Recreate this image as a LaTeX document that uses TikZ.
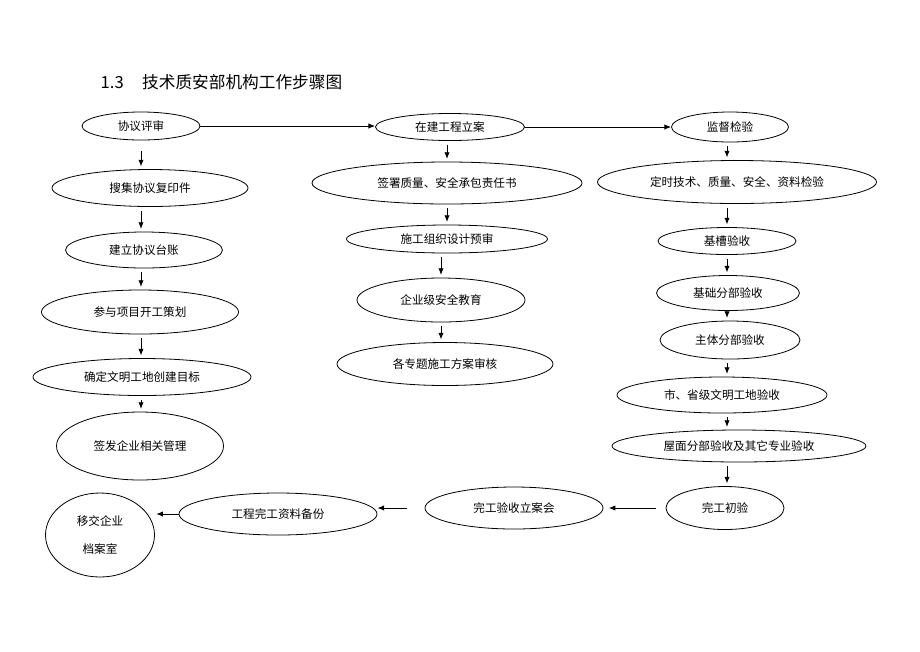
\documentclass[tikz,border=0pt]{standalone}
\usepackage{fontspec}
\newfontfamily\cjk{Noto Sans CJK SC}
\usetikzlibrary{shapes.geometric,arrows.meta}
\tikzset{
  oval/.style={ellipse, draw, line width=0.6pt, inner sep=0pt, font=\cjk\fontsize{8.7}{10}\selectfont},
  arr/.style={-{Latex[length=5pt,width=4pt]}, line width=0.7pt, shorten <=3pt, shorten >=2pt}
}
\begin{document}
\begin{tikzpicture}[x=0.75pt,y=-0.75pt]
\useasboundingbox (0,0) rectangle (920,651);
\node[anchor=west, font=\cjk\fontsize{12.5}{15}\selectfont] (title) at (96,82) {1.3\hspace{1.1em}技术质安部机构工作步骤图};
\node[oval, minimum width=88.5pt, minimum height=21pt] (l0) at (141,126) {协议评审};
\node[oval, minimum width=147pt, minimum height=27.75pt] (l1) at (150,188) {搜集协议复印件};
\node[oval, minimum width=117.75pt, minimum height=27pt] (l2) at (144,250) {建立协议台账};
\node[oval, minimum width=147.75pt, minimum height=33pt] (l3) at (140,312) {参与项目开工策划};
\node[oval, minimum width=163.5pt, minimum height=27.75pt] (l4) at (142,377) {确定文明工地创建目标};
\node[oval, minimum width=125.25pt, minimum height=51pt] (l5) at (140,446) {签发企业相关管理};
\node[oval, minimum width=111.75pt, minimum height=20.25pt] (m0) at (450,127) {在建工程立案};
\node[oval, minimum width=202.5pt, minimum height=31.5pt] (m1) at (447,183) {签署质量、安全承包责任书};
\node[oval, minimum width=150.75pt, minimum height=21pt] (m2) at (447,239) {施工组织设计预审};
\node[oval, minimum width=126pt, minimum height=33pt] (m3) at (441,300) {企业级安全教育};
\node[oval, minimum width=162pt, minimum height=32.25pt] (m4) at (445,364) {各专题施工方案审核};
\node[oval, minimum width=87.75pt, minimum height=22.5pt] (r0) at (730,127) {监督检验};
\node[oval, minimum width=209.25pt, minimum height=32.25pt] (r1) at (737,182) {定时技术、质量、安全、资料检验};
\node[oval, minimum width=103.5pt, minimum height=20.25pt] (r2) at (727,241) {基槽验收};
\node[oval, minimum width=107.25pt, minimum height=26.25pt] (r3) at (728,293) {基础分部验收};
\node[oval, minimum width=105pt, minimum height=28.5pt] (r4) at (730,340) {主体分部验收};
\node[oval, minimum width=157.5pt, minimum height=27pt] (r5) at (722,395) {市、省级文明工地验收};
\node[oval, minimum width=190.5pt, minimum height=24pt] (r6) at (739,446) {屋面分部验收及其它专业验收};
\node[oval, minimum width=88.5pt, minimum height=32.25pt] (b0) at (725,508) {完工初验};
\node[oval, minimum width=133.5pt, minimum height=31.5pt] (b1) at (514,508) {完工验收立案会};
\node[oval, minimum width=148.5pt, minimum height=31.5pt] (b2) at (278,514) {工程完工资料备份};
\node[oval, minimum width=81.75pt, minimum height=63pt, align=center, font=\cjk\fontsize{8.7}{21}\selectfont] (b3) at (100,535) {移交企业\\档案室};
\draw[arr, shorten <=0pt, shorten >=0pt](l0.east) -- (l0.east -| m0.west);
\draw[arr, shorten <=0pt, shorten >=0pt](m0.east) -- (m0.east -| r0.west);
\draw[arr, shorten <=8pt](l0.south) -- (l0.south |- l1.north);
\draw[arr](l0.south |- l1.south) -- (l0.south |- l2.north);
\draw[arr](l0.south |- l2.south) -- (l0.south |- l3.north);
\draw[arr](l0.south |- l3.south) -- (l0.south |- l4.north);
\draw[arr](l0.south |- l4.south) -- (l0.south |- l5.north);
\draw[arr](m2.north |- m0.south) -- (m2.north |- m1.north);
\draw[arr](m2.north |- m1.south) -- (m2.north);
\draw[arr](m2.south -| m3.south) -- (m3.north);
\draw[arr](m3.south) -- (m3.south |- m4.north);
\draw[arr](r2.north |- r0.south) -- (r2.north |- r1.north);
\draw[arr](r2.north |- r1.south) -- (r2.north);
\draw[arr](r2.south) -- (r2.south |- r3.north);
\draw[arr](r2.south |- r3.south) -- (r2.south |- r4.north);
\draw[arr](r2.south |- r4.south) -- (r2.south |- r5.north);
\draw[arr](r2.south |- r5.south) -- (r2.south |- r6.north);
\draw[arr](r2.south |- r6.south) -- (r2.south |- b0.north);
\draw[arr, shorten <=7pt, shorten >=4pt](b0.west) -- (b0.west -| b1.east);
\draw[arr, shorten <=13pt, shorten >=0pt](b1.west) -- (b1.west -| b2.east);
\draw[arr, shorten <=0pt, shorten >=1pt](b2.west) -- (b2.west -| b3.east);
\end{tikzpicture}
\end{document}
